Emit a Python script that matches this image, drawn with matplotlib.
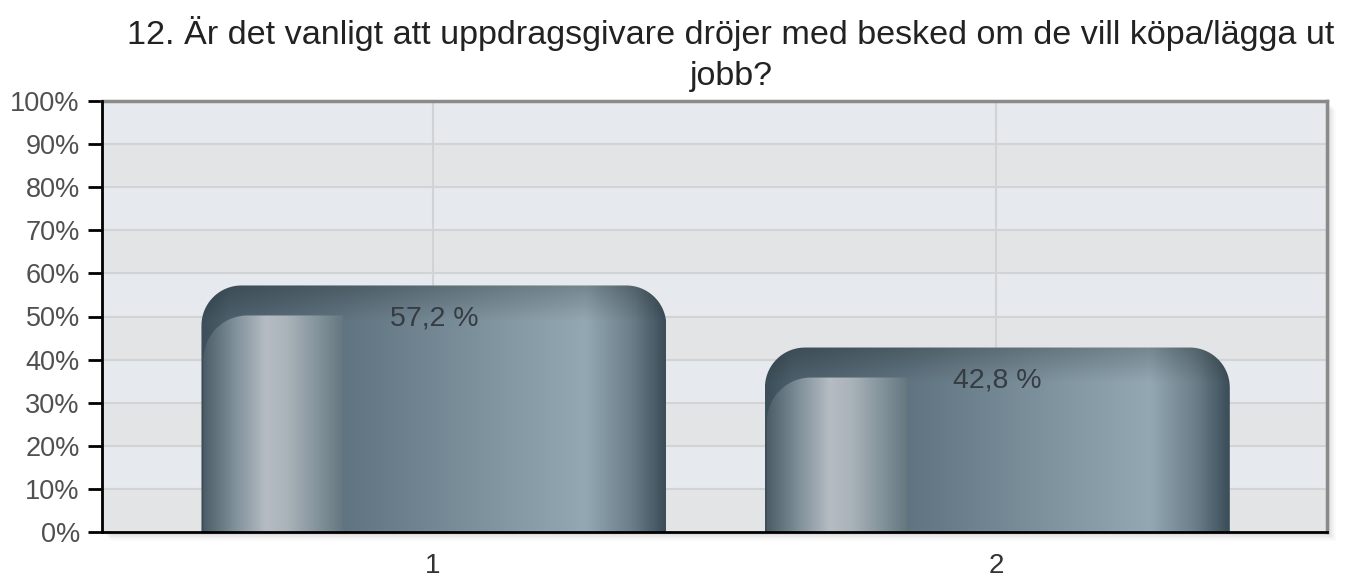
import numpy as np
import matplotlib
matplotlib.use("Agg")
import matplotlib.pyplot as plt
from matplotlib.path import Path
from matplotlib.patches import PathPatch, Rectangle
from matplotlib.colors import LinearSegmentedColormap

plt.rcParams['font.family'] = ['Liberation Sans', 'DejaVu Sans']

# ---- data ----
title = "12. Är det vanligt att uppdragsgivare dröjer med besked om de vill köpa/lägga ut\njobb?"
categories = ["1", "2"]
values = [57.2, 42.8]
labels = ["57,2 %", "42,8 %"]
yticks = list(range(0, 101, 10))
ytick_labels = [f"{v}%" for v in yticks]

W, H = 1345, 580
fig = plt.figure(figsize=(W / 100, H / 100), dpi=100)
ax_l, ax_r, ax_t, ax_b = 102, 1327, 101, 532
ax = fig.add_axes([ax_l / W, 1 - ax_b / H, (ax_r - ax_l) / W, (ax_b - ax_t) / H])

xmin, xmax = 0.413, 2.587
ax.set_xlim(xmin, xmax)
ax.set_ylim(0, 100)
px_x = (xmax - xmin) / (ax_r - ax_l)
px_y = 100 / (ax_b - ax_t)

# shadow of plot area
for i, a in enumerate([0.05, 0.04, 0.03, 0.02]):
    off = 3 + i * 2
    fig.patches.append(Rectangle(((ax_l + off) / W, 1 - (ax_b + off) / H),
                                 (ax_r - ax_l) / W, (ax_b - ax_t) / H,
                                 transform=fig.transFigure, facecolor='black',
                                 alpha=a, edgecolor='none', zorder=-5))

# background bands
ax.set_facecolor('#e6e9ed')
for k in range(10):
    ax.axhspan(k * 10, k * 10 + 10, color='#e6e9ed' if k % 2 == 1 else '#e3e4e6', zorder=0, lw=0)
for v in yticks[1:-1]:
    ax.axhline(v, color='#d2d3d5', lw=1.5, zorder=1)
xpos = np.arange(1, len(categories) + 1)
for x in xpos:
    ax.axvline(x, color='#d2d3d5', lw=1.5, zorder=1)

bw = 0.825
bars = ax.bar(xpos + 0.002, values, width=bw, color='none', edgecolor='none', zorder=2)


def rounded_top(x0, x1, y0, y1, rx, ry, round_right=True):
    verts = [(x1, y0)]
    if round_right:
        for t in np.linspace(0, np.pi / 2, 20):
            verts.append((x1 - rx + rx * np.cos(t), y1 - ry + ry * np.sin(t)))
    else:
        verts.append((x1, y1))
    for t in np.linspace(np.pi / 2, np.pi, 20):
        verts.append((x0 + rx + rx * np.cos(t), y1 - ry + ry * np.sin(t)))
    verts.append((x0, y0))
    verts.append((x1, y0))
    return Path(verts)


main_cmap = LinearSegmentedColormap.from_list('m', [
    (0.0, '#3c4e59'), (0.06, '#4d606c'), (0.30, '#5f7380'),
    (0.62, '#7f949f'), (0.83, '#93a8b3'), (0.93, '#6a7d88'), (1.0, '#3c4e59')])
hi_cmap = LinearSegmentedColormap.from_list('h', [
    (0.0, '#4d5d67'), (0.2, '#7a8a94'), (0.45, '#b5bcc4'), (0.6, '#aab3ba'),
    (0.85, '#7f8f98'), (1.0, '#65777f')])

R = 40
for rect, lab in zip(bars, labels):
    x0 = rect.get_x(); x1 = x0 + rect.get_width(); h = rect.get_height()
    rx, ry = R * px_x, R * px_y
    nx = 400
    g = main_cmap(np.linspace(0, 1, nx))[None, :, :3]
    ny = 200
    img = np.repeat(g, ny, axis=0)
    yy = np.linspace(1, 0, ny)[:, None, None]
    topdist = (1 - yy) * h / px_y
    dark = np.clip(1 - topdist / 35, 0, 1) * 0.2
    img = img * (1 - dark)
    im = ax.imshow(img, extent=(x0, x1, 0, h), aspect='auto', zorder=3, interpolation='bilinear')
    clip = PathPatch(rounded_top(x0, x1, 0, h, rx, ry), transform=ax.transData, facecolor='none', edgecolor='none')
    ax.add_patch(clip)
    im.set_clip_path(clip)

    # inner highlight
    hx0 = x0 + 2 * px_x
    hx1 = x0 + 142 * px_x
    hh = h - 30 * px_y
    g2 = hi_cmap(np.linspace(0, 1, 200))[None, :, :3]
    img2 = np.repeat(g2, 10, axis=0)
    im2 = ax.imshow(img2, extent=(hx0, hx1, 0, hh), aspect='auto', zorder=4, interpolation='bilinear')
    clip2 = PathPatch(rounded_top(hx0, hx1, 0, hh, 44 * px_x, 44 * px_y, round_right=False),
                      transform=ax.transData, facecolor='none', edgecolor='none')
    ax.add_patch(clip2)
    im2.set_clip_path(clip2)

    ax.text(rect.get_x() + rect.get_width() / 2, h - 20 * px_y, lab, ha='center', va='top',
            fontsize=20.5, color='#363c42', zorder=6)

ax.set_xlim(xmin, xmax)
ax.set_ylim(0, 100)
ax.set_yticks(yticks)
ax.set_yticklabels(ytick_labels)
ax.set_xticks(xpos)
ax.set_xticklabels(categories)
ax.tick_params(axis='y', length=10, width=2, color='black', labelsize=19.5, labelcolor='#505050', pad=6)
ax.tick_params(axis='x', length=0, labelsize=20, labelcolor='#333333', pad=15)
for s in ['left', 'bottom']:
    ax.spines[s].set_color('black'); ax.spines[s].set_linewidth(2); ax.spines[s].set_zorder(7)
for s in ['top', 'right']:
    ax.spines[s].set_color('#8a8a8a'); ax.spines[s].set_linewidth(2.5)

fig.text(731 / W, 1 - 54 / H, title, ha='center', va='center', fontsize=24.6,
         color='#222222', linespacing=1.38)

fig.savefig('out.png', dpi=100, facecolor='white')
